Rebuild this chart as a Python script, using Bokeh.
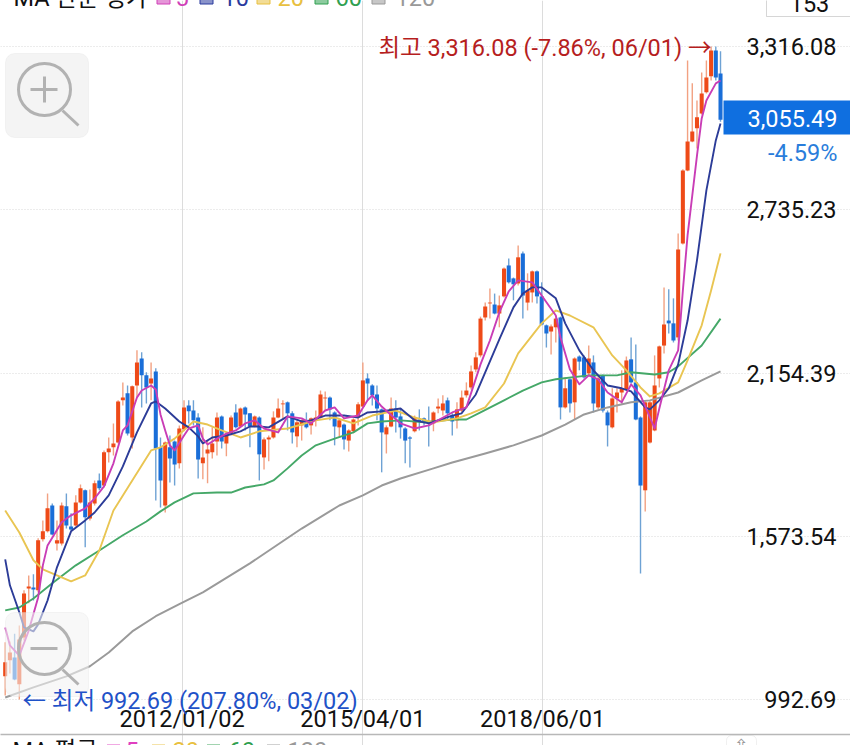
from bokeh.plotting import figure
from bokeh.models import (LinearAxis, FixedTicker, Grid, Range1d, BoxAnnotation,
                          NumeralTickFormatter, ColumnDataSource)
from bokeh.core.properties import value
from bokeh.embed import file_html
from bokeh.resources import INLINE

opens = [1075,1132,1142,1047,1213,1388,1391,1381,1563,1591,
1683,1548,1548,1680,1608,1612,1694,1737,1637,1690,
1772,1754,1872,1890,1907,2057,2082,1925,2110,2206,
2146,2117,2160,1890,1683,1890,1911,1833,1954,2039,
2021,1996,1833,1868,1872,1911,2000,1904,1939,2014,
1964,2032,2011,1964,1996,1854,1918,1925,1996,2043,
2050,2011,1929,1968,1982,1968,1989,1996,2064,2067,
2014,1961,1971,1914,1947,1996,2035,2135,2110,2078,
2025,1936,1964,2028,2000,1957,1925,1947,1989,1993,
1979,1975,2028,2021,2057,2003,1986,2021,2075,2103,
2167,2217,2352,2402,2398,2366,2427,2537,2491,2473,
2580,2405,2441,2516,2427,2324,2302,2317,2352,2032,
2132,2050,2213,2210,2153,2192,2032,2146,2014,1961,
2064,2085,2096,2203,2121,1996,1737,1907,1950,2135,
2252,2341,2331,2281,2615,2875,2978,3025,3078,3153,
3210,3302,3220]
highs = [1196,1199,1227,1256,1381,1434,1438,1566,1630,1726,
1690,1630,1694,1726,1655,1719,1758,1740,1740,1772,
1797,1879,1925,1975,2057,2121,2110,2110,2235,2228,
2157,2192,2171,1925,1911,1932,1914,1968,2057,2057,
2057,2011,1961,1914,1961,2014,2003,1939,2003,2043,
2032,2035,2011,2003,2000,1925,1932,2018,2064,2057,
2053,2018,1986,1989,2014,1996,2021,2092,2089,2071,
2018,1993,1975,1954,1993,2050,2192,2153,2114,2110,
2028,1968,2067,2057,2028,1961,1929,2003,2025,1996,
2035,2018,2064,2075,2067,2011,2050,2092,2121,2181,
2228,2355,2405,2455,2437,2430,2530,2562,2494,2608,
2587,2509,2519,2519,2477,2327,2327,2352,2355,2139,
2135,2210,2217,2217,2252,2217,2146,2149,2021,2100,
2100,2164,2213,2281,2256,2000,2057,2057,2217,2252,
2459,2452,2420,2651,2879,3266,3185,3124,3224,3266,
3316.08,3316,3299]
lows = [1007,1085,1061,992.69,1203,1335,1345,1374,1555,1587,
1577,1523,1541,1601,1594,1608,1690,1534,1630,1683,
1737,1747,1836,1861,1904,2039,1932,1886,2067,2032,
2046,2057,1701,1676,1658,1765,1754,1815,1947,1975,
1968,1779,1776,1762,1850,1861,1886,1858,1932,1957,
1961,1950,1890,1961,1772,1811,1840,1921,1993,1993,
1950,1904,1890,1914,1957,1936,1964,1993,2021,1986,
1897,1925,1882,1875,1940,1968,2032,2057,2039,1986,
1801,1868,1961,1943,1921,1833,1818,1943,1950,1968,
1893,1947,2011,2003,1986,1932,1957,2014,2067,2096,
2157,2210,2341,2348,2363,2317,2423,2473,2413,2466,
2348,2377,2405,2402,2324,2245,2220,2263,1989,2028,
2014,1989,2164,2135,2146,2014,2025,2014,1893,1957,
2014,2046,2092,2117,1986,1441,1662,1904,1947,2103,
2224,2295,2263,2270,2612,2872,2975,2953,3074,3149,
3195,3195,3048]
closes = [1125,1160,1064,1206,1370,1395,1384,1559,1591,1673,
1580,1559,1683,1612,1598,1694,1744,1641,1694,1762,
1744,1872,1886,1904,2053,2067,1939,2107,2192,2146,
2103,2135,1886,1772,1907,1850,1829,1957,2032,2018,
1986,1847,1854,1882,1904,1996,1911,1932,1996,1961,
2028,2007,1964,2000,1865,1918,1925,1996,2028,2046,
2011,1943,1979,1986,1961,1993,1996,2078,2067,2025,
1964,1986,1918,1950,1989,2043,2128,2117,2075,2028,
1943,1961,2028,1996,1961,1914,1921,1996,1982,1982,
1975,2014,2035,2046,2011,1982,2025,2067,2092,2160,
2210,2348,2391,2405,2366,2395,2526,2477,2470,2566,
2430,2448,2516,2427,2327,2295,2320,2348,2032,2100,
2046,2206,2195,2139,2206,2046,2135,2021,1968,2064,
2085,2100,2199,2121,1989,1754,2050,2050,2110,2249,
2327,2331,2270,2594,2875,2978,3014,3064,3149,3206,
3302,3206,3055.49]

ma5_i = [0,1,3,5,7,8,9,12,14,17,19,21,23,25,26,28,29,31,32,33,34,35,36,38,39,41,42,43,45,47,49,51,53,55,58,60,63,65,68,70,72,75,77,78,80,84,87,90,95,98,101,103,105,107,109,112,114,117,118,120,122,124,126,128,131,133,135,138,139,141,143,144,145,147,148,149,151,152]
ma5_v = [1249,1185,1149,1238,1356,1470,1541,1623,1648,1673,1708,1751,1833,1950,1968,2067,2092,2110,2096,2007,1950,1897,1879,1932,1957,1968,1921,1900,1921,1939,1950,1975,1986,1957,1943,2000,1993,1975,2021,2032,1993,2003,2057,2075,2035,1975,1957,1968,2014,2032,2185,2270,2370,2445,2484,2477,2430,2359,2281,2167,2114,2146,2132,2085,2050,2114,2075,1957,2028,2164,2235,2448,2644,2928,3060,3124,3185,3195]
ma10_i = [0,1,3,4,6,7,9,11,14,17,19,22,25,28,31,32,34,37,39,41,42,44,47,50,52,54,56,60,63,65,68,72,75,77,80,84,87,90,95,97,100,102,105,108,110,112,114,117,119,122,125,128,131,133,136,137,139,141,143,145,147,149,151,152]
ma10_v = [1491,1399,1303,1249,1235,1260,1345,1463,1591,1630,1658,1719,1822,1943,2046,2053,2028,1982,1961,1929,1904,1925,1932,1947,1964,1964,1961,2000,1982,1986,2003,2003,1996,2014,2018,2028,1986,1975,2003,2011,2078,2157,2274,2388,2437,2459,2459,2420,2331,2235,2164,2110,2100,2089,2032,2025,2057,2100,2185,2341,2555,2804,2982,3042]
ma20_i = [0,3,6,8,11,14,17,20,23,27,31,33,36,40,43,46,50,54,60,66,70,74,78,83,87,91,96,99,102,106,109,114,117,120,125,129,132,135,137,139,143,145,148,150,152]
ma20_v = [1665,1587,1488,1456,1434,1413,1434,1523,1665,1772,1879,1890,1921,1982,1971,1950,1925,1947,1957,1986,1996,1975,2003,2021,1996,1979,1993,2011,2032,2117,2224,2331,2377,2359,2317,2217,2164,2103,2071,2082,2121,2199,2324,2448,2580]
ma60_i = [0,3,6,10,15,20,25,30,33,36,40,45,48,51,55,57,60,63,66,70,74,77,80,84,89,95,98,101,106,110,114,117,124,130,133,138,141,143,148,152]
ma60_v = [1310,1320,1352,1406,1470,1523,1577,1626,1662,1694,1726,1729,1729,1747,1758,1772,1815,1861,1897,1921,1943,1975,1982,1986,1979,1989,1989,2014,2057,2092,2121,2132,2146,2146,2157,2149,2157,2178,2252,2348]
ma120_i = [0,6,13,18,22,27,32,37,42,52,63,71,76,80,84,91,95,102,108,114,119,123,128,133,137,143,148,152]
ma120_v = [1000,1036,1075,1111,1160,1235,1289,1332,1374,1477,1601,1683,1719,1754,1779,1815,1836,1868,1897,1932,1971,2007,2032,2050,2057,2085,2128,2160]

price_ticks = [3316.08, 2735.23, 2154.39, 1573.54, 992.69]
date_ticks = [37.6, 76.0, 114.2]
date_labels = ["2012/01/02", "2015/04/01", "2018/06/01"]
high_label = "최고 3,316.08 (-7.86%, 06/01) →"
low_label = "← 최저 992.69 (207.80%, 03/02)"
change_label = "-4.59%"
last_label = "3,055.49"
count_label = "153"
top_legend = [("5", "#d040b8"), ("10", "#2a3a9e"), ("20", "#e8c040"), ("60", "#30a050"), ("120", "#999999")]
bottom_legend = [("5", "#e040c0"), ("20", "#e8c040"), ("60", "#30a050"), ("120", "#999999")]

W, H = 850, 745
X0, DX = 4.7, 4.706          # first candle's pixel, pixels per candle
P0, DP = 3479.75, 3.558      # price at the top edge, price per pixel
def sx(px): return (px - X0) / DX
def sy(py): return P0 - py * DP

FONT = 'Roboto, "Noto Sans CJK KR"'
FS = "23.5px"
UP, DOWN = "#ee4a18", "#1a6ed8"
UPW, DOWNW = "#f2a182", "#6ea2d4"

p = figure(width=W, height=H, output_backend="svg", toolbar_location=None,
           x_range=Range1d(sx(0), sx(W)), y_range=Range1d(sy(H), sy(0)),
           x_axis_type=None, y_axis_type=None, min_border=0, outline_line_color=None,
           background_fill_color="white", border_fill_color="white")
p.styles = {"position": "absolute", "left": "0px", "top": "0px"}

# grids and axes, placed inside the frame
vt = FixedTicker(ticks=date_ticks)
ht = FixedTicker(ticks=price_ticks)
p.add_layout(Grid(dimension=0, ticker=vt, grid_line_color="#dcdcdc", grid_line_width=1))
p.add_layout(Grid(dimension=1, ticker=ht, grid_line_color="#d8d8d8", grid_line_width=1,
                  grid_line_dash="1 2", bounds=(sx(0), sx(723))))
yax = LinearAxis(ticker=ht, formatter=NumeralTickFormatter(format="0,0.00"),
                 fixed_location=sx(842), axis_line_color=None, major_tick_line_color=None,
                 minor_tick_line_color=None, major_label_standoff=0,
                 major_label_text_font=FONT, major_label_text_font_size=FS,
                 major_label_text_color="#111111")
p.add_layout(yax, "left")
xax = LinearAxis(ticker=vt, major_label_overrides=dict(zip(date_ticks, date_labels)),
                 fixed_location=sy(698), axis_line_color=None, major_tick_line_color=None,
                 minor_tick_line_color=None, major_label_standoff=0,
                 major_label_text_font=FONT, major_label_text_font_size=FS,
                 major_label_text_color="#111111")
p.add_layout(xax, "below")

# candles
idx = list(range(len(opens)))
rising = [c >= o for o, c in zip(opens, closes)]
src = ColumnDataSource(dict(
    x=idx, h=highs, l=lows,
    t=[max(o, c) for o, c in zip(opens, closes)],
    b=[min(o, c) for o, c in zip(opens, closes)],
    fc=[UP if r else DOWN for r in rising],
    wc=[UPW if r else DOWNW for r in rising]))
p.segment("x", "h", "x", "l", source=src, line_color="wc", line_width=1.4)
p.vbar("x", width=0.86, top="t", bottom="b", source=src, fill_color="fc", line_color=None)

# moving averages
p.line(ma120_i, ma120_v, line_color="#9a9a9a", line_width=2, line_join="round")
p.line(ma60_i, ma60_v, line_color="#45a868", line_width=1.9, line_join="round")
p.line(ma20_i, ma20_v, line_color="#e9c552", line_width=1.9, line_join="round")
p.line(ma10_i, ma10_v, line_color="#2c3c98", line_width=1.9, line_join="round")
p.line(ma5_i, ma5_v, line_color="#c93db6", line_width=1.9, line_join="round")

def txt(px, py, s, color, size=FS, align="left", level="overlay", font=FONT):
    return p.text([sx(px)], [sy(py)], text=[s], text_color=color, text_font=value(font),
                  text_font_size=size, text_align=align, text_baseline="middle", level=level)

# zoom buttons
def button(top, alpha, plus):
    p.add_layout(BoxAnnotation(left=sx(5), right=sx(88), top=sy(top), bottom=sy(top + 84),
                               fill_color="#f4f4f4", fill_alpha=alpha, line_color="#dedede",
                               line_width=1, border_radius=9))
    cx, cy = 44, top + 36
    g = "#b2b2b2"
    p.scatter([sx(cx)], [sy(cy)], marker="circle", size=52, fill_color=None, line_color=g,
              line_width=3, level="overlay")
    p.line([sx(30), sx(57)], [sy(cy), sy(cy)], line_color=g, line_width=3, level="overlay")
    if plus:
        p.line([sx(cx), sx(cx)], [sy(cy - 13), sy(cy + 13)], line_color=g, line_width=3, level="overlay")
    p.line([sx(62), sx(78)], [sy(cy + 21), sy(cy + 36)], line_color=g, line_width=3, level="overlay")
button(53, 1.0, True)
button(612, 0.6, False)

# annotations
txt(378, 47, high_label, "#b61e1e")
txt(22, 700, low_label, "#1f52c8")

# last price box and change
p.add_layout(BoxAnnotation(left=sx(723), right=sx(851), top=sy(100), bottom=sy(134),
                           fill_color="#0f6fe0", fill_alpha=1, line_color=None))
txt(837, 118, last_label, "white", align="right")
txt(837, 152, change_label, "#2a7ddb", align="right")

# count box, top right
p.add_layout(BoxAnnotation(left=sx(766), right=sx(852), top=sy(-5), bottom=sy(16),
                           fill_color="white", fill_alpha=1, line_color="#777777", line_width=1))
txt(809, 3, count_label, "#111111", align="center")

# top legend (cut by the top edge)
TY = -3
txt(13, TY, "MA 단순 평가", "#111111", level="overlay")
for (lab, col), sqx, tx in zip(top_legend, [163, 206, 263, 321, 378], [175, 222, 277, 335, 395]):
    p.scatter([sx(sqx)], [sy(TY)], marker="square", size=13, fill_color=col, fill_alpha=0.55,
              line_color=col, level="overlay")
    txt(tx, TY, lab, col)

# bottom panel
p.line([sx(0), sx(W)], [sy(734), sy(734)], line_color="#b8b8b8", line_width=1.5, level="overlay")
BY = 750
txt(12, BY, "MA 평균", "#111111")
for (lab, col), sqx, tx in zip(bottom_legend, [113, 158, 213, 273], [125, 172, 228, 287]):
    p.scatter([sx(sqx)], [sy(BY)], marker="square", size=13, fill_color=col, fill_alpha=0.45,
              line_color=None, level="overlay")
    txt(tx, BY, lab, col)
p.add_layout(BoxAnnotation(left=sx(726), right=sx(756), top=sy(735), bottom=sy(760),
                           fill_color="white", fill_alpha=1, line_color="#cccccc", line_width=1,
                           border_radius=5))
txt(741, 745, "⇧", "#999999", size="18px", align="center", font="DejaVu Sans")

open("out.html", "w").write(file_html(p, INLINE))
